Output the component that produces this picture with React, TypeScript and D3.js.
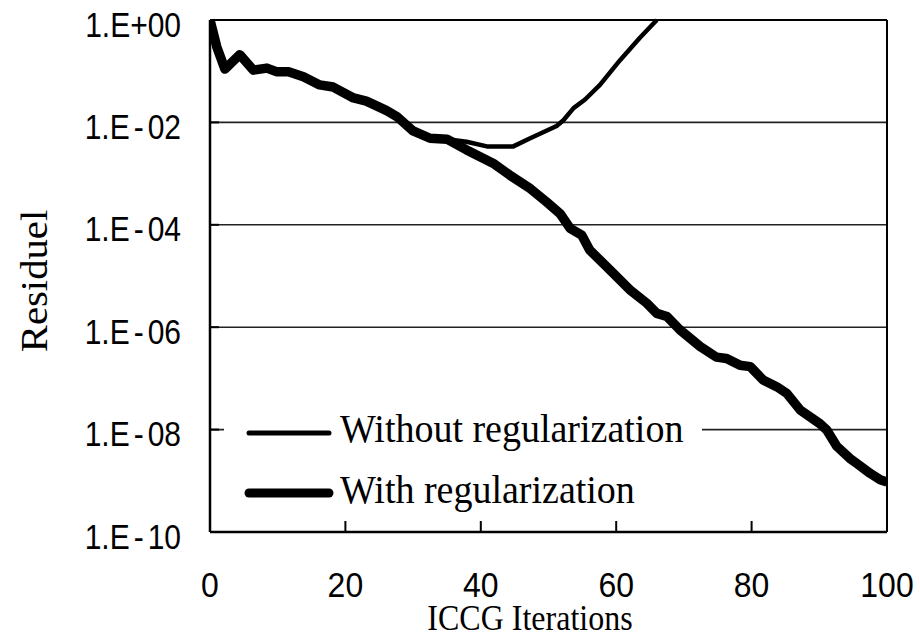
import React from "react";
import * as d3 from "d3";

// ---- data ----
const withIter = [0, 1, 2.2, 4.4, 6.4, 8.4, 9.8, 11.6, 13.8, 16.2, 18.2, 21.2, 23.1, 26.1, 27.6, 30, 32.5, 35, 37.9, 41.8, 44.3, 47.3, 49.7, 51.7, 53.2, 54.9, 56.1, 59.1, 62, 64.5, 66, 67.5, 69.4, 72.4, 74.8, 76.3, 78.3, 79.8, 81.7, 83.7, 85.2, 87.2, 90.1, 91.1, 92.6, 94.5, 95.5, 97.5, 99, 100];
const withValues = [1, 0.3, 0.11, 0.21, 0.105, 0.115, 0.098, 0.098, 0.078, 0.054, 0.049, 0.03, 0.026, 0.017, 0.013, 0.0068, 0.0049, 0.0047, 0.0029, 0.0016, 0.00093, 0.00051, 0.00028, 0.000166, 8.5e-5, 6.3e-5, 3.2e-5, 1.3e-5, 5.4e-6, 2.95e-6, 1.86e-6, 1.62e-6, 8.9e-7, 4.2e-7, 2.6e-7, 2.45e-7, 1.8e-7, 1.7e-7, 9.3e-8, 6.9e-8, 5.1e-8, 2.4e-8, 1.3e-8, 9.8e-9, 4.7e-9, 2.75e-9, 2.2e-9, 1.4e-9, 1.05e-9, 9.5e-10];

const withoutIter = [0, 1, 2.2, 4.4, 6.4, 8.4, 9.8, 11.6, 13.8, 16.2, 18.2, 21.2, 23.1, 26.1, 27.6, 30, 32.5, 35, 37.9, 40.9, 44.8, 47.3, 51.2, 52.2, 53.7, 55.4, 57.6, 60.6, 63.5, 66];
const withoutValues = [1, 0.3, 0.11, 0.21, 0.105, 0.115, 0.098, 0.098, 0.078, 0.054, 0.049, 0.03, 0.026, 0.017, 0.013, 0.0068, 0.0049, 0.0047, 0.0042, 0.0034, 0.0034, 0.0049, 0.0085, 0.011, 0.019, 0.028, 0.054, 0.166, 0.45, 1.0];

const xTicks = [0, 20, 40, 60, 80, 100];
const yTicks = [1, 1e-2, 1e-4, 1e-6, 1e-8, 1e-10];
const yTickLabels = ["1.E+00", "1.E-02", "1.E-04", "1.E-06", "1.E-08", "1.E-10"];
const seriesNames = ["Without regularization", "With regularization"];

export default function App() {
  const left = 210, right = 887, top = 20, bottom = 532;
  const x = d3.scaleLinear().domain([0, 100]).range([left, right]);
  const y = d3.scaleLog().domain([1e-10, 1]).range([bottom, top]);

  const line = d3
    .line<[number, number]>()
    .x((d) => x(d[0]))
    .y((d) => y(d[1]));

  const withData: [number, number][] = withIter.map((t, i) => [t, withValues[i]]);
  const withoutData: [number, number][] = withoutIter.map((t, i) => [t, withoutValues[i]]);

  const sans = "Arial, 'Liberation Sans', sans-serif";
  const serif = "'Times New Roman', 'Liberation Serif', serif";

  return (
    <svg
      width={920}
      height={637}
      style={{ position: "absolute", left: 0, top: 0, background: "#fff" }}
    >
      <defs>
        <clipPath id="plot">
          <rect x={left} y={top - 2} width={right - left} height={bottom - top + 2} />
        </clipPath>
      </defs>
      <rect x={0} y={0} width={920} height={637} fill="#fff" />

      {/* grid lines */}
      {yTicks.map((v, i) => (
        <line key={"g" + i} x1={left} x2={right} y1={y(v)} y2={y(v)} stroke="#222" strokeWidth={1.6} />
      ))}

      {/* series */}
      <g clipPath="url(#plot)">
        <path d={line(withoutData) || ""} fill="none" stroke="#000" strokeWidth={4.5} strokeLinejoin="round" />
        <path d={line(withData) || ""} fill="none" stroke="#000" strokeWidth={9.5} strokeLinejoin="round" />
      </g>

      {/* legend */}
      <rect x={224} y={408} width={478} height={112} fill="#fff" />
      <line x1={249} x2={329} y1={433} y2={433} stroke="#000" strokeWidth={5} strokeLinecap="round" />
      <line x1={249} x2={329} y1={493} y2={493} stroke="#000" strokeWidth={9} strokeLinecap="round" />
      <text transform="translate(340,442) scale(1,1.06)" fontFamily={serif} fontSize={38} fill="#000">{seriesNames[0]}</text>
      <text transform="translate(340,503) scale(1,1.06)" fontFamily={serif} fontSize={38} fill="#000">{seriesNames[1]}</text>

      {/* axes frame */}
      <line x1={left} x2={left} y1={top} y2={bottom} stroke="#000" strokeWidth={2.5} />
      <line x1={right} x2={right} y1={top} y2={bottom} stroke="#000" strokeWidth={2} />
      <line x1={left} x2={right} y1={bottom} y2={bottom} stroke="#000" strokeWidth={2.5} />
      <line x1={left} x2={right} y1={top} y2={top} stroke="#000" strokeWidth={2} />

      {/* y ticks */}
      {yTicks.map((v, i) => (
        <line key={"yt" + i} x1={left} x2={left + 9} y1={y(v)} y2={y(v)} stroke="#000" strokeWidth={2} />
      ))}
      {/* x ticks */}
      {xTicks.map((v, i) => (
        <line key={"xt" + i} x1={x(v)} x2={x(v)} y1={bottom} y2={bottom - 11} stroke="#000" strokeWidth={2} />
      ))}

      {/* y tick labels */}
      {yTicks.map((v, i) => {
        const lab = yTickLabels[i];
        const parts = lab.split("-");
        return (
          <text
            key={"yl" + i}
            transform={`translate(181,${y(v) + 16.5}) scale(1,1.16)`}
            textAnchor="end"
            fontFamily={sans}
            fontSize={30}
            fill="#000"
          >
            {parts.length === 2 ? (
              <>
                <tspan>{parts[0]}</tspan>
                <tspan dx={4}>-</tspan>
                <tspan dx={4}>{parts[1]}</tspan>
              </>
            ) : (
              lab
            )}
          </text>
        );
      })}

      {/* x tick labels */}
      {xTicks.map((v, i) => (
        <text
          key={"xl" + i}
          transform={`translate(${x(v)},597) scale(1,1.12)`}
          textAnchor="middle"
          fontFamily={sans}
          fontSize={32}
          fill="#000"
        >
          {v}
        </text>
      ))}

      {/* axis titles */}
      <text
        transform="translate(530,629.5) scale(1,1.12)"
        textAnchor="middle"
        fontFamily={serif}
        fontSize={32}
        fill="#000"
      >
        ICCG Iterations
      </text>
      <text
        transform="translate(46.5,281) rotate(-90) scale(1.1,1)"
        textAnchor="middle"
        fontFamily={serif}
        fontSize={37}
        fill="#000"
      >
        Residuel
      </text>
    </svg>
  );
}
